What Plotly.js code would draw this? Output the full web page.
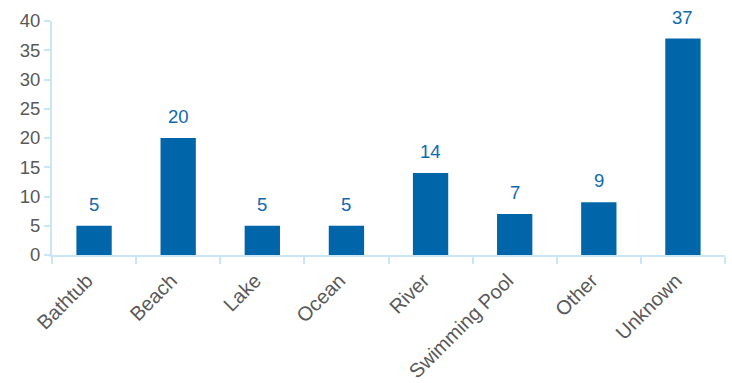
<!DOCTYPE html>
<html>
<head>
<meta charset="utf-8">
<script src="https://cdn.plot.ly/plotly-3.0.1.min.js"></script>
<style>html,body{margin:0;padding:0;background:#fff;}#chart{width:732px;height:383px;}</style>
</head>
<body>
<div id="chart"></div>
<script>
const categories = ["Bathtub", "Beach", "Lake", "Ocean", "River", "Swimming Pool", "Other", "Unknown"];
const values = [5, 20, 5, 5, 14, 7, 9, 37];
const yTicks = [0, 5, 10, 15, 20, 25, 30, 35, 40];

const barColor = "#0066A9";
const labelColor = "#1068AC";
const axisColor = "#C9E6F6";
const textColor = "#595959";
const fontFamily = "Liberation Sans, Arial, sans-serif";

const trace = {
  type: "bar",
  x: categories,
  y: values,
  marker: {color: barColor},
  hoverinfo: "none"
};

const annotations = categories.map((c, i) => ({
  x: c, y: values[i], xref: "x", yref: "y",
  text: String(values[i]), showarrow: false,
  yanchor: "bottom", yshift: 9,
  font: {family: fontFamily, size: 18.5, color: labelColor}
}));

const layout = {
  width: 732, height: 383,
  margin: {l: 52, r: 7, t: 21, b: 128},
  paper_bgcolor: "#fff", plot_bgcolor: "#fff",
  bargap: 0.58,
  showlegend: false,
  xaxis: {
    type: "category",
    tickangle: -45,
    showline: true, linecolor: axisColor, linewidth: 2,
    ticks: "outside", tickson: "boundaries", ticklen: 7, tickcolor: axisColor, tickwidth: 2,
    showgrid: false, zeroline: false,
    ticklabelstandoff: 4,
    ticklabelshift: -7,
    tickfont: {family: fontFamily, size: 20, color: textColor}
  },
  yaxis: {
    range: [0, 40],
    tickvals: yTicks,
    showline: true, linecolor: axisColor, linewidth: 2,
    ticks: "outside", ticklen: 6, tickcolor: axisColor, tickwidth: 2,
    showgrid: false, zeroline: false,
    tickfont: {family: fontFamily, size: 18.5, color: textColor}
  },
  annotations: annotations
};

Plotly.newPlot("chart", [trace], layout, {staticPlot: true, displayModeBar: false});
</script>
</body>
</html>
